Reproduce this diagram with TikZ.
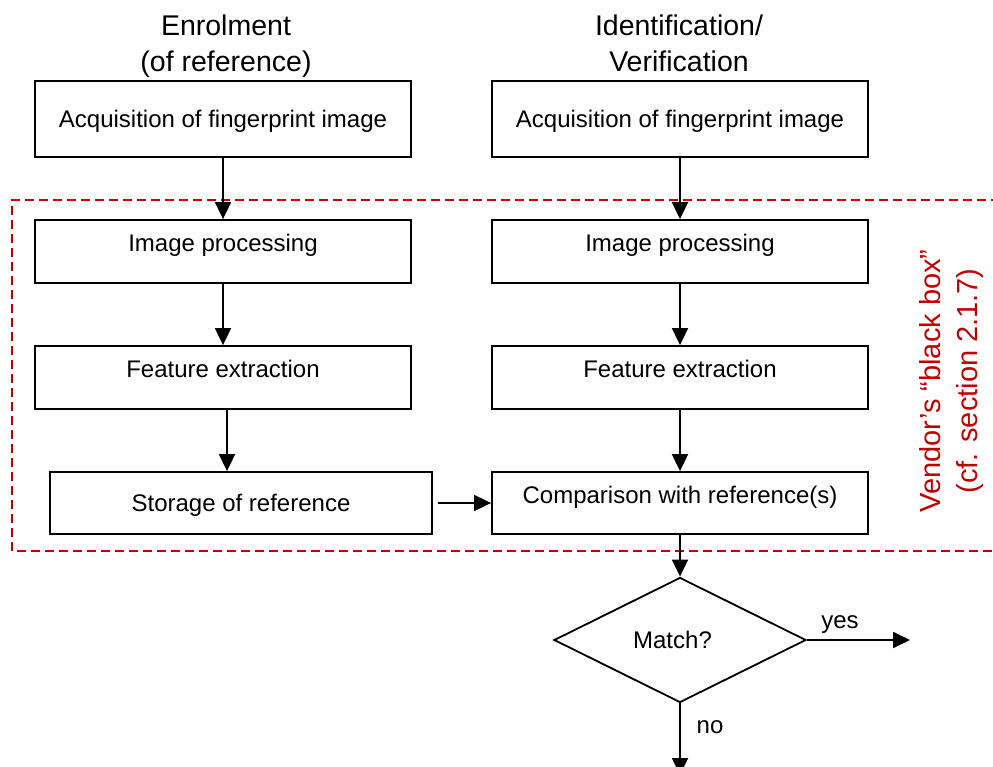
\documentclass[tikz,border=0pt]{standalone}
\usepackage{fontspec}
\setmainfont{Liberation Sans}
\usetikzlibrary{shapes.geometric,arrows.meta}
\definecolor{vendorred}{HTML}{C00000}
\begin{document}
\begin{tikzpicture}[x=1pt,y=-1pt,
  box/.style={draw,line width=1.8pt,minimum width=376pt,minimum height=63pt,
    inner sep=0pt,font=\fontsize{24}{28}\selectfont,text height=17pt,text depth=0pt},
  boxup/.style={box,text depth=17pt},
  arr/.style={line width=1.8pt,-{Triangle[length=17pt,width=16pt]}},
  title/.style={font=\fontsize{28.5}{36}\selectfont,align=center,inner sep=0pt,anchor=north},
  lbl/.style={font=\fontsize{24}{28}\selectfont,inner sep=0pt,anchor=base}
]
\useasboundingbox (0,0) rectangle (993,767);

% column titles
\node[title] (tl) at (226,15) {Enrolment\\(of reference)};
\node[title] (tr) at (679,15) {Identification/\\Verification};

% vendor's black box frame
\draw[vendorred,line width=1.8pt,dash pattern=on 9pt off 5pt]
  (1000,200) -- (12,200) -- (12,551) -- (1000,551);
\node[rotate=90,text=vendorred,font=\fontsize{29}{37}\selectfont,align=center,inner sep=0pt]
  (vendor) at (951,381) {Vendor’s “black box”\\(cf. section 2.1.7)};

% enrolment column
\node[box,minimum height=76pt] (acqL) at (223,119) {Acquisition of fingerprint image};
\node[boxup] (imgL) at (223,251.5) {Image processing};
\node[boxup] (feaL) at (223,377.5) {Feature extraction};
\node[box,minimum width=382pt,minimum height=62pt] (stoL) at (241,503) {Storage of reference};

% identification column
\node[box,minimum height=76pt] (acqR) at (680,119) {Acquisition of fingerprint image};
\node[boxup] (imgR) at (680,251.5) {Image processing};
\node[boxup] (feaR) at (680,377.5) {Feature extraction};
\node[boxup,minimum height=62pt] (cmpR) at (680,503) {Comparison with reference(s)};

% decision
\node[diamond,draw,line width=1.8pt,minimum width=252pt,minimum height=125pt,inner sep=0pt,
  font=\fontsize{24}{28}\selectfont] (match) at (680,640) {Match?\hspace*{15pt}};
\coordinate (yesend) at (910,640);
\coordinate (noend) at (680,775);
\node[lbl] (yeslbl) at (840,628) {yes};
\node[lbl] (nolbl) at (710,733) {no};

% connectors
\draw[arr] (acqL) -- (imgL);
\draw[arr] (imgL) -- (feaL);
\draw[arr] ([xshift=4pt]feaL.south) -- ([xshift=4pt]feaL.south |- stoL.north);
\draw[arr] (acqR) -- (imgR);
\draw[arr] (imgR) -- (feaR);
\draw[arr] (feaR) -- (cmpR);
\draw[arr] ([xshift=5pt]stoL.east) -- (cmpR.west);
\draw[arr] (cmpR) -- (match);
\draw[arr] (match.east) -- (yesend);
\draw[arr] (match.south) -- (noend);
\end{tikzpicture}
\end{document}
